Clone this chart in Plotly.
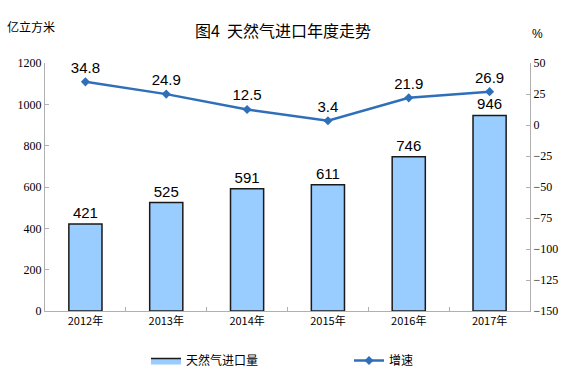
import plotly.graph_objects as go

years = ["2012年", "2013年", "2014年", "2015年", "2016年", "2017年"]
imports = [421, 525, 591, 611, 746, 946]
growth = [34.8, 24.9, 12.5, 3.4, 21.9, 26.9]
left_ticks = [0, 200, 400, 600, 800, 1000, 1200]
right_ticks = [-150, -125, -100, -75, -50, -25, 0, 25, 50]

CJK = "Noto Sans CJK SC"
L, R, T, B = 45, 36, 63, 69
W, H = 566, 380
pw, ph = W - L - R, H - T - B
BAR_COLOR = "#99ccff"
LINE_COLOR = "#2f6fba"

def px_x(x):
    return (x - L) / pw

def px_y(y):
    return (H - B - y) / ph

fig = go.Figure()
fig.add_trace(go.Bar(
    x=years, y=imports, name="天然气进口量", showlegend=False,
    marker=dict(color=BAR_COLOR, line=dict(color="#1a1a1a", width=1.5)),
    width=0.41,
    text=[str(v) for v in imports], textposition="outside",
    textfont=dict(family="Liberation Sans, Arial", size=15, color="#000"),
    cliponaxis=False, hoverinfo="skip",
))
# legend-only entry drawn as a wide outlined rectangle
fig.add_trace(go.Scatter(
    x=[None], y=[None], name="天然气进口量", mode="lines", fill="toself",
    fillcolor=BAR_COLOR, line=dict(color="#1a1a1a", width=1.5),
    hoverinfo="skip",
))
fig.add_trace(go.Scatter(
    x=years, y=growth, name="增速", yaxis="y2",
    mode="lines+markers+text",
    line=dict(color=LINE_COLOR, width=2.5),
    marker=dict(symbol="diamond", size=7, color=LINE_COLOR),
    text=[f"{v:.1f}" for v in growth], textposition="top center",
    textfont=dict(family="Liberation Sans, Arial", size=15, color="#000"),
    cliponaxis=False, hoverinfo="skip",
))
axis_common = dict(showgrid=False, showline=True, linecolor="#b0b0b0", linewidth=1,
                   ticks="inside", ticklen=4, tickcolor="#b0b0b0", zeroline=False)
fig.update_layout(
    width=W, height=H,
    margin=dict(l=L, r=R, t=T, b=B, autoexpand=False),
    paper_bgcolor="white", plot_bgcolor="white",
    showlegend=True,
    legend=dict(orientation="h", x=px_x(146), xanchor="left", y=px_y(346), yanchor="top",
                font=dict(family=CJK, size=12, color="#000"),
                itemwidth=30, traceorder="normal",
                entrywidth=158, entrywidthmode="pixels"),
    xaxis=dict(**axis_common, tickson="boundaries",
               tickfont=dict(family=CJK, size=11, color="#000")),
    yaxis=dict(**axis_common, range=[0, 1200], tickvals=left_ticks,
               tickfont=dict(family="Liberation Serif, Times New Roman", size=12, color="#000")),
    yaxis2=dict(**axis_common, range=[-150, 50], tickvals=right_ticks, overlaying="y", side="right",
                tickfont=dict(family="Liberation Serif, Times New Roman", size=12, color="#000")),
    annotations=[
        dict(text="图4  天然气进口年度走势", xref="paper", yref="paper",
             x=px_x(283), y=px_y(30), showarrow=False, xanchor="center", yanchor="middle",
             font=dict(family=CJK, size=16, color="#000")),
        dict(text="亿立方米", xref="paper", yref="paper", x=px_x(5), y=px_y(27),
             showarrow=False, xanchor="left", yanchor="middle",
             font=dict(family=CJK, size=12, color="#000")),
        dict(text="%", xref="paper", yref="paper", x=px_x(537), y=px_y(34),
             showarrow=False, xanchor="center", yanchor="middle",
             font=dict(family="Liberation Sans, Arial", size=12, color="#000")),
    ],
)
fig.write_html("out.html", config={"displayModeBar": False},
               post_script="document.body.style.margin='0';document.body.style.overflow='hidden';")
